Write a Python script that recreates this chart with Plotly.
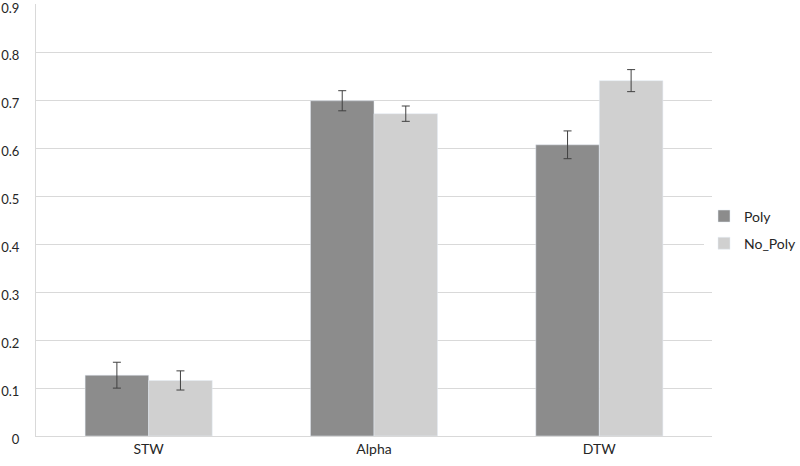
import plotly.graph_objects as go

categories = ["STW", "Alpha", "DTW"]
poly = [0.127, 0.700, 0.608]
poly_err = [0.027, 0.021, 0.029]
no_poly = [0.116, 0.673, 0.742]
no_poly_err = [0.020, 0.016, 0.023]
y_ticks = [0, 0.1, 0.2, 0.3, 0.4, 0.5, 0.6, 0.7, 0.8, 0.9]
y_tick_labels = ["0", "0.1", "0.2", "0.3", "0.4", "0.5", "0.6", "0.7", "0.8", "0.9"]

err_style = dict(type="data", color="#404040", thickness=1, width=4)

fig = go.Figure()
fig.add_trace(go.Bar(
    x=categories, y=poly, name="Poly", marker_color="#8c8c8c", legendgroup="a",
    error_y=dict(array=poly_err, **err_style),
))
fig.add_trace(go.Bar(
    x=categories, y=no_poly, name="No_Poly", marker_color="#d0d0d0", legendgroup="b",
    error_y=dict(array=no_poly_err, **err_style),
))

font = dict(family="Lato, Open Sans, sans-serif", size=14, color="#262626")
fig.update_layout(
    width=800, height=466,
    margin=dict(l=36, r=88, t=4, b=30, autoexpand=False),
    paper_bgcolor="white", plot_bgcolor="white",
    barmode="group", bargap=0.436, bargroupgap=0,
    font=font,
    legend=dict(xref="container", x=0.88, y=0.477, xanchor="left", yanchor="middle",
                font=dict(size=14), itemwidth=30, tracegroupgap=6),
    xaxis=dict(showline=True, linecolor="#d9d9d9", linewidth=1, ticks="",
               tickfont=dict(size=14), automargin=False),
    yaxis=dict(range=[0, 0.902], tickvals=y_ticks, ticktext=y_tick_labels,
               showgrid=True, gridcolor="#d9d9d9", gridwidth=1,
               showline=True, linecolor="#d9d9d9", zeroline=False,
               ticks="", ticklabelstandoff=13, ticklabelshift=3, tickfont=dict(size=13),
               automargin=False, ticklabeloverflow="allow"),
)
fig.write_html("out.html", config={"displayModeBar": False},
               post_script="document.body.style.margin='0';")
